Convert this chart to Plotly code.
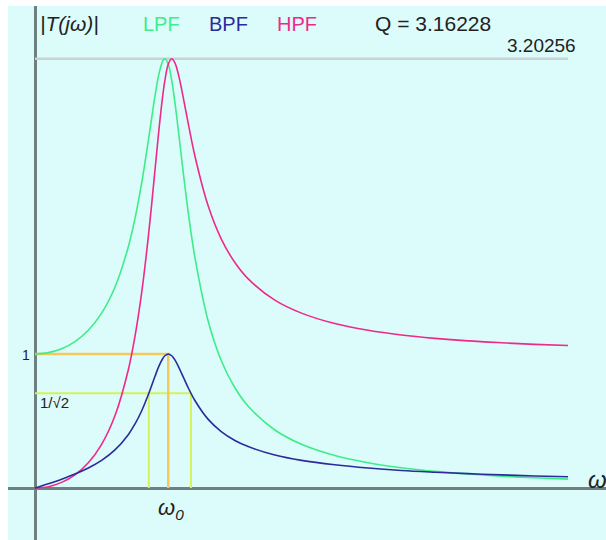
import plotly.graph_objects as go

# Normalised frequency samples (w / w0)
omega = [0.0, 0.1, 0.2, 0.3, 0.4, 0.5, 0.6, 0.7, 0.75, 0.8, 0.85, 0.9, 0.93, 0.96,
         0.975, 1.0, 1.026, 1.05, 1.08, 1.1, 1.15, 1.2, 1.3, 1.4, 1.5, 1.6, 1.8,
         2.0, 2.25, 2.5, 2.75, 3.0, 3.25, 3.5, 3.75, 4.0]

# Magnitude responses |T(jw)| for Q = 3.16228
lpf = [1.000, 1.010, 1.039, 1.093, 1.177, 1.305, 1.498, 1.799, 2.009, 2.273, 2.588,
       2.922, 3.090, 3.189, 3.203, 3.162, 3.042, 2.878, 2.632, 2.461, 2.057, 1.721,
       1.245, 0.946, 0.748, 0.610, 0.433, 0.326, 0.242, 0.188, 0.151, 0.124, 0.104,
       0.088, 0.076, 0.066]
bpf = [0.000, 0.032, 0.066, 0.104, 0.149, 0.206, 0.284, 0.398, 0.477, 0.575, 0.696,
       0.832, 0.909, 0.968, 0.987, 1.000, 0.987, 0.956, 0.899, 0.856, 0.748, 0.653,
       0.512, 0.419, 0.355, 0.309, 0.246, 0.206, 0.173, 0.149, 0.131, 0.118, 0.107,
       0.098, 0.090, 0.084]
hpf = [0.000, 0.010, 0.042, 0.098, 0.188, 0.326, 0.539, 0.881, 1.130, 1.455, 1.870,
       2.367, 2.672, 2.939, 3.042, 3.162, 3.203, 3.173, 3.070, 2.978, 2.721, 2.478,
       2.104, 1.854, 1.683, 1.561, 1.402, 1.305, 1.227, 1.177, 1.142, 1.117, 1.098,
       1.084, 1.072, 1.063]

peak = 3.20256
half_power = 0.7071
w_low, w_high = 0.854, 1.170
w_end = 4.0

green = "#3ded88"
blue = "#2b2b9b"
pink = "#ee2a88"
orange = "#f5c85a"
lime = "#d4f25a"

fig = go.Figure()

# guide lines
fig.add_trace(go.Scatter(x=[0, w_end], y=[peak, peak], mode="lines",
                         line=dict(color="#c9d2d2", width=2.5), hoverinfo="skip"))
fig.add_trace(go.Scatter(x=[0, w_high, None, w_low, w_low, None, w_high, w_high],
                         y=[half_power, half_power, None, half_power, 0, None, half_power, 0],
                         mode="lines", line=dict(color=lime, width=2), hoverinfo="skip"))
fig.add_trace(go.Scatter(x=[0, 1, 1], y=[1, 1, 0], mode="lines",
                         line=dict(color=orange, width=2.5), hoverinfo="skip"))

# response curves
for ys, col in [(lpf, green), (hpf, pink), (bpf, blue)]:
    fig.add_trace(go.Scatter(x=omega, y=ys, mode="lines", line_shape="spline",
                             line=dict(color=col, width=1.6), hoverinfo="skip"))

font = "Liberation Sans, Arial, sans-serif"
ann = [
    dict(x=0.02, y=3.465, text="<i>|T(jω)|</i>", size=21, color="#222222", xanchor="left"),
    dict(x=0.95, y=3.463, text="LPF", size=20, color=green, xanchor="center"),
    dict(x=1.455, y=3.463, text="BPF", size=20, color=blue, xanchor="center"),
    dict(x=1.965, y=3.463, text="HPF", size=20, color=pink, xanchor="center"),
    dict(x=2.99, y=3.463, text="Q = 3.16228", size=21, color="#222222", xanchor="center"),
    dict(x=4.076, y=3.30, text="3.20256", size=19, color="#222222", xanchor="right"),
    dict(x=-0.025, y=0.995, text="1", size=14, color="#222222", xanchor="right"),
    dict(x=0.02, y=0.64, text="1/√2", size=15, color="#222222", xanchor="left"),
    dict(x=4.225, y=0.065, text="<i>ω</i>", size=24, color="#222222", xanchor="center"),
    dict(x=1.02, y=-0.16, text="<i>ω<sub>0</sub></i>", size=22, color="#222222", xanchor="center"),
]
for a in ann:
    fig.add_annotation(x=a["x"], y=a["y"], text=a["text"], showarrow=False,
                       xanchor=a["xanchor"], yanchor="middle",
                       font=dict(family=font, size=a["size"], color=a["color"]))

fig.update_layout(
    width=606, height=540,
    margin=dict(l=8, r=0, t=6, b=0),
    paper_bgcolor="white", plot_bgcolor="#dcfcfc",
    showlegend=False,
    xaxis=dict(range=[-0.2026, 4.2852], showgrid=False, showticklabels=False,
               ticks="", zeroline=True, zerolinecolor="#6f8080", zerolinewidth=2.5,
               fixedrange=True),
    yaxis=dict(range=[-0.388, 3.597], showgrid=False, showticklabels=False,
               ticks="", zeroline=True, zerolinecolor="#6f8080", zerolinewidth=2.5,
               fixedrange=True),
)

fig.write_html("out.html", config={"displayModeBar": False})
